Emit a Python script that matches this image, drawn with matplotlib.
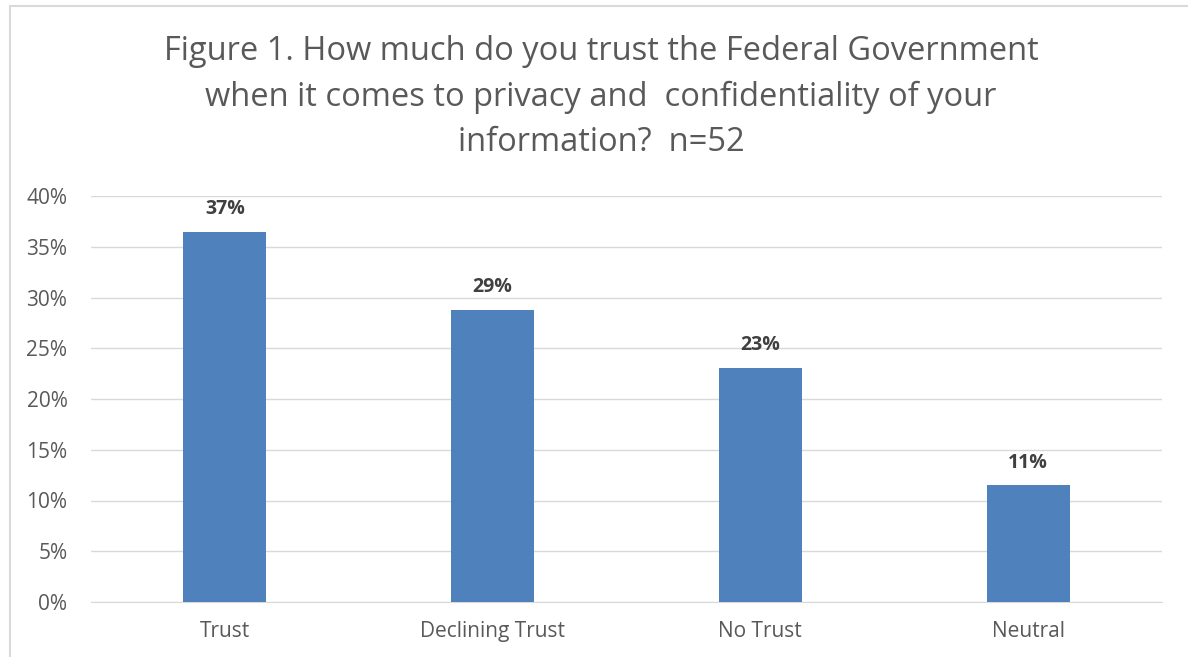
import matplotlib.pyplot as plt
from matplotlib.patches import Rectangle
from matplotlib.ticker import PercentFormatter

categories = ['Trust', 'Declining Trust', 'No Trust', 'Neutral']
shares = [36.5, 28.8, 23.1, 11.5]
labels = ['37%', '29%', '23%', '11%']

plt.rcParams['font.family'] = ['Open Sans', 'DejaVu Sans']

fig = plt.figure(figsize=(11.88, 6.57), dpi=100)
ax = fig.add_axes([91 / 1188, 1 - 602 / 657, (1162 - 91) / 1188, (602 - 196) / 657])

x = range(len(categories))
ax.bar(x, shares, width=0.31, color='#4F81BD', zorder=3)
for i, (v, lab) in enumerate(zip(shares, labels)):
    ax.annotate(lab, (i, v), xytext=(0, 9), textcoords='offset points',
                ha='center', va='bottom', fontsize=14, fontweight='bold', color='#404040')

ax.set_xlim(-0.5, len(categories) - 0.5)
ax.set_ylim(0, 40)
ax.set_yticks(range(0, 41, 5))
ax.yaxis.set_major_formatter(PercentFormatter(decimals=0))
ax.set_xticks(list(x))
ax.set_xticklabels(categories)
ax.grid(axis='y', color='#D9D9D9', linewidth=1, zorder=0)
for s in ['top', 'right', 'left']:
    ax.spines[s].set_visible(False)
ax.spines['bottom'].set_color('#D9D9D9')
ax.tick_params(axis='both', length=0, colors='#595959', labelsize=15)
ax.tick_params(axis='y', pad=17)
ax.tick_params(axis='x', pad=14)

fig.text(601 / 1188, 1 - 97 / 657,
         'Figure 1. How much do you trust the Federal Government\n'
         'when it comes to privacy and  confidentiality of your\n'
         'information?  n=52',
         ha='center', va='center', fontsize=23.5, color='#595959', linespacing=1.5)

# light outer chart border (top and left edges visible)
fig.patches.append(Rectangle((10 / 1188, -0.1), 1.2, 1 - 6 / 657 + 0.1,
                             transform=fig.transFigure, fill=False,
                             edgecolor='#D9D9D9', linewidth=1.5))

fig.savefig('out.png', dpi=100)
